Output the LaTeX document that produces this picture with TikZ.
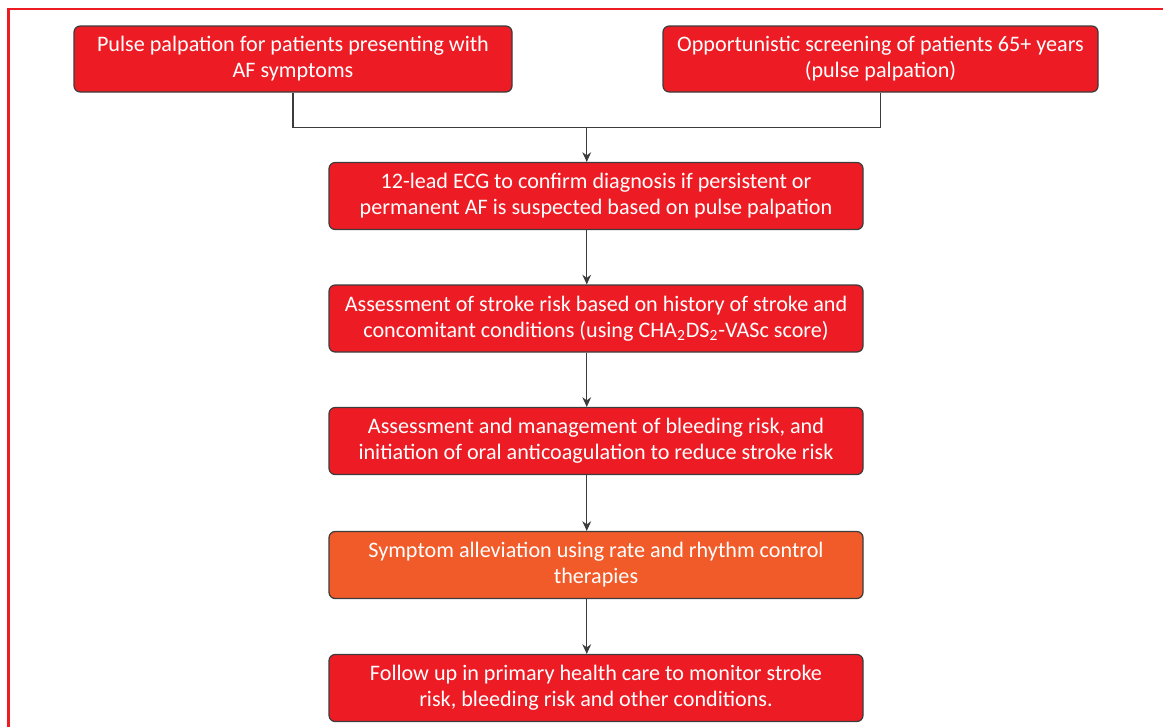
\documentclass[tikz,border=0pt]{standalone}
\usepackage{fontspec}
\setmainfont{Carlito}
\usepackage{tikz}
\usetikzlibrary{calc,arrows.meta}
\definecolor{afred}{RGB}{237,28,36}
\definecolor{aforange}{RGB}{241,90,41}
\definecolor{afline}{RGB}{60,60,60}
\newcommand{\clrone}{afred}
\newcommand{\clrtwo}{aforange}

\begin{document}
\begin{tikzpicture}[x=0.02cm, y=-0.02cm,
    box/.style = {draw=afline, line width=0.7pt, rounded corners=3.5pt, fill=#1,
                  text=white, align=center, inner sep=0pt,
                  font=\fontsize{12.6}{14.8}\selectfont},
    wide/.style = {box=#1, minimum width=534*0.02cm, minimum height=67*0.02cm},
    arrow/.style = {draw=afline, line width=0.6pt, -{Stealth[length=5.5pt,width=5pt]}}]
    \useasboundingbox (0,0) rectangle (1163,727);
    \draw[\clrone, line width=1.2pt] (8.5,727) -- (8.5,9) -- (1163,9);

    \node[box=\clrone, minimum width=438*0.02cm, minimum height=66*0.02cm] (start1) at (293,59)
        {Pulse palpation for patients presenting with\\AF symptoms};
    \node[box=\clrone, minimum width=435*0.02cm, minimum height=66*0.02cm] (start2) at (880.5,59)
        {Opportunistic screening of patients 65+ years\\(pulse palpation)};

    \node[wide=\clrone] (stage1) at (596,196)
        {12-lead ECG to confirm diagnosis if persistent or\\permanent AF is suspected based on pulse palpation};
    \node[wide=\clrone] (stage2) at (596,318.5)
        {Assessment of stroke risk based on history of stroke and\\concomitant conditions (using CHA\textsubscript{2}DS\textsubscript{2}-VASc score)};
    \node[wide=\clrone] (stage3) at (596,441)
        {Assessment and management of bleeding risk, and\\initiation of oral anticoagulation to reduce stroke risk};
    \node[wide=\clrtwo] (stage4) at (596,565)
        {Symptom alleviation using rate and rhythm control\\therapies};
    \node[wide=\clrone] (stage5) at (596,688)
        {Follow up in primary health care to monitor stroke\\risk, bleeding risk and other conditions.};

    % both entry points meet here
    \coordinate (mid) at ($(start1.south)!0.5!(start2.south)+(0,35)$);
    \draw[afline, line width=0.6pt] (start1.south) |- (mid) -| (start2.south);
    \draw[arrow] (mid) -- (stage1.north -| mid);

    \foreach \a/\b in {1/2,2/3,3/4,4/5} {
        \draw[arrow] (stage\a.south -| mid) -- (stage\b.north -| mid);
    }
\end{tikzpicture}
\end{document}
